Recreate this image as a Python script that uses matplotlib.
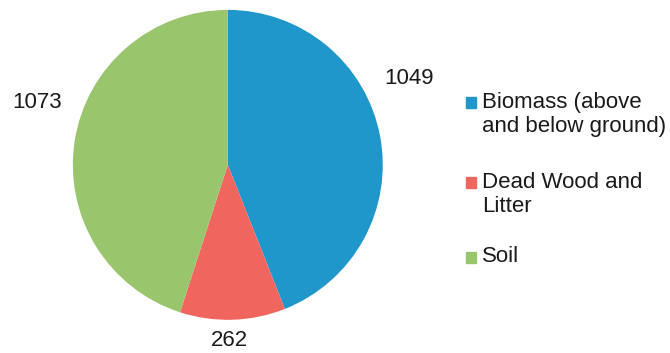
import matplotlib.pyplot as plt

# Donnees
categories = ['Biomass (above\nand below ground)', 'Dead Wood and\nLitter', 'Soil']
valeurs = [1049, 262, 1073]
couleurs = ['#1f97cb', '#f0665e', '#99c66d']

# positions des etiquettes (unites du camembert, rayon = 1)
pos_etiquettes = [(1.17, 0.56), (0.01, -1.135), (-1.23, 0.40)]

plt.rcParams['font.family'] = ['Liberation Sans', 'DejaVu Sans']
couleur_texte = '#1a1a1a'
taille = 16

fig = plt.figure(figsize=(6.7, 3.53), dpi=100)
ax = fig.add_axes([0.340 - 0.2313, 0.533 - 0.439, 0.4626, 0.878])

ax.pie(valeurs, colors=couleurs, startangle=90, counterclock=False,
       wedgeprops={'linewidth': 0})
ax.set_xlim(-1, 1)
ax.set_ylim(-1, 1)
ax.set_aspect('equal')

for v, (x, y) in zip(valeurs, pos_etiquettes):
    ax.text(x, y, str(v), ha='center', va='center', fontsize=taille, color=couleur_texte)

# Legende manuelle (y de la premiere ligne de chaque entree)
y_leg = [0.711, 0.484, 0.272]
interligne = 0.070
for cat, c, y in zip(categories, couleurs, y_leg):
    fig.patches.append(plt.Rectangle((0.695, y - 0.016), 0.016, 0.031, color=c,
                                     transform=fig.transFigure, figure=fig))
    for i, ligne in enumerate(cat.split('\n')):
        fig.text(0.719, y - i * interligne, ligne, ha='left', va='center',
                 fontsize=taille, color=couleur_texte)

fig.savefig('out.png', dpi=100, facecolor='white')
